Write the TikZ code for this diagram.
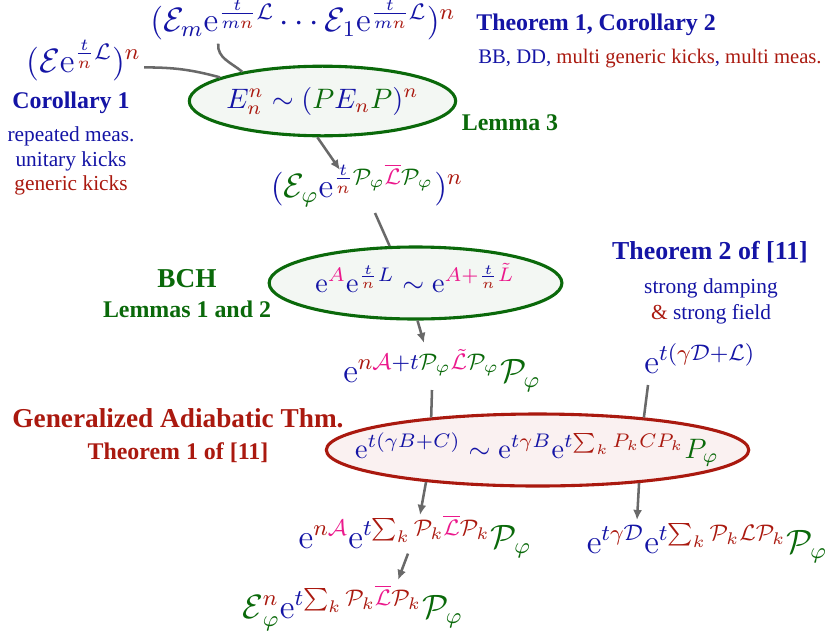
\documentclass[tikz,border=0pt]{standalone}
\usepackage{amsmath,amssymb}
\usepackage[no-math]{fontspec}
\setmainfont{Liberation Serif}
\usepackage{xcolor}
\usepackage{tikz}
\usetikzlibrary{arrows.meta,shapes.geometric}
\definecolor{NoteBlue}{RGB}{20,20,165}
\definecolor{NoteRed}{RGB}{170,25,15}
\definecolor{NoteGreen}{RGB}{10,105,10}
\definecolor{NotePink}{RGB}{235,25,140}
\definecolor{LinkGray}{RGB}{105,105,105}
\newcommand{\cR}[1]{{\color{NoteRed}#1}}
\newcommand{\cG}[1]{{\color{NoteGreen}#1}}
\newcommand{\cP}[1]{{\color{NotePink}#1}}
\newcommand{\Pphi}{\cG{\mathcal{P}_\varphi}}

\begin{document}
\begin{tikzpicture}[>=Latex,
  ellg/.style={ellipse, draw=NoteGreen, line width=1.1pt, fill=NoteGreen!5, inner sep=0pt},
  ellr/.style={ellipse, draw=NoteRed, line width=1.1pt, fill=NoteRed!6, inner sep=0pt},
  fml/.style={anchor=base, text=NoteBlue, inner sep=1pt},
  bigfml/.style={fml, font=\large},
  hdbig/.style={anchor=base, inner sep=1pt, font=\fontsize{9.7}{11}\selectfont\bfseries},
  hdmid/.style={anchor=base, inner sep=1pt, font=\fontsize{9.2}{11}\selectfont\bfseries},
  hd/.style={anchor=base, inner sep=1pt, font=\fontsize{8.5}{10}\selectfont\bfseries},
  note/.style={align=center, inner sep=1pt, font=\fontsize{7.6}{8.6}\selectfont},
  link/.style={draw=LinkGray, line width=0.9pt},
  flow/.style={link, -{Latex[length=3.6pt,width=3.2pt]}}]
  \useasboundingbox (0,0) rectangle (10.375,7.9875);

  \node[ellg, minimum width=3.33cm, minimum height=0.87cm] (ellA) at (4.031,6.725) {};
  \node[ellg, minimum width=3.66cm, minimum height=0.9cm] (ellB) at (5.194,4.45) {};
  \node[ellr, minimum width=5.28cm, minimum height=0.9cm] (ellC) at (6.719,2.3625) {};

  \node[bigfml] (tf) at (3.7875,7.59) {$(\mathcal{E}_m\mathrm{e}^{\frac{t}{m\cR{n}}\mathcal{L}}\cdots\mathcal{E}_1\mathrm{e}^{\frac{t}{m\cR{n}}\mathcal{L}})^{\cR{n}}$};
  \node[bigfml] (lf) at (1.044,7.0875) {$(\mathcal{E}\mathrm{e}^{\frac{t}{\cR{n}}\mathcal{L}})^{\cR{n}}$};
  \node[fml] (fA) at (4.031,6.6375) {$E_{\cR{n}}^{\cR{n}}\sim(\cG{P}E_{\cR{n}}\cG{P})^{\cR{n}}$};
  \node[bigfml] (pf) at (4.5875,5.525) {$(\cG{\mathcal{E}_\varphi}\mathrm{e}^{\frac{t}{\cR{n}}\Pphi\cP{\overline{\mathcal{L}}}\Pphi})^{\cR{n}}$};
  \node[fml] (fB) at (5.1875,4.3375) {$\mathrm{e}^{\cP{A}}\mathrm{e}^{\frac{t}{\cR{n}}L}\sim\mathrm{e}^{\cP{A+}\frac{t}{\cR{n}}\cP{\tilde{L}}}$};
  \node[bigfml] (af) at (5.525,3.2125) {$\mathrm{e}^{\cR{n}\cP{\mathcal{A}}+t\Pphi\cP{\tilde{\mathcal{L}}}\Pphi}\Pphi$};
  \node[bigfml] (df) at (8.75,3.325) {$\mathrm{e}^{t(\cR{\gamma}\mathcal{D}+\mathcal{L})}$};
  \node[fml] (fC) at (6.7125,2.2625) {$\mathrm{e}^{t(\gamma B+C)}\sim\mathrm{e}^{t\cR{\gamma}B}\mathrm{e}^{t\cR{\sum_k P_kCP_k}}\cG{P_\varphi}$};
  \node[bigfml] (bl) at (5.1875,1.1375) {$\mathrm{e}^{\cR{n}\cP{\mathcal{A}}}\mathrm{e}^{t\cR{\sum_k\mathcal{P}_k}\cP{\overline{\mathcal{L}}}\cR{\mathcal{P}_k}}\Pphi$};
  \node[bigfml] (br) at (8.8375,1.075) {$\mathrm{e}^{t\cR{\gamma}\mathcal{D}}\mathrm{e}^{t\cR{\sum_k\mathcal{P}_k\mathcal{L}\mathcal{P}_k}}\Pphi$};
  \node[bigfml] (lastf) at (4.406,0.2625) {$\cG{\mathcal{E}}_{\cG{\varphi}}^{\cR{n}}\mathrm{e}^{t\cR{\sum_k\mathcal{P}_k}\cP{\overline{\mathcal{L}}}\cR{\mathcal{P}_k}}\Pphi$};

  \node[hd, anchor=base west, text=NoteBlue] (thmA) at (5.9125,7.6125) {Theorem 1, Corollary 2};
  \node[note, anchor=base west, text=NoteBlue, font=\fontsize{7.35}{8.6}\selectfont] (kinds) at (5.9375,7.2) {BB, DD, \cR{multi generic kicks}, \cR{multi meas.}};
  \node[hd, text=NoteBlue] (corA) at (0.8875,6.6375) {Corollary 1};
  \node[note, text=NoteBlue] (corAtxt) at (0.8875,5.975) {repeated meas.\\unitary kicks\\\cR{generic kicks}};
  \node[hd, text=NoteGreen] (lemC) at (6.375,6.3625) {Lemma 3};
  \node[hdbig, text=NoteGreen] (bch) at (2.3375,4.4) {BCH};
  \node[hd, text=NoteGreen] (lemAB) at (2.3375,4.025) {Lemmas 1 and 2};
  \node[hdmid, text=NoteBlue] (thmB) at (8.875,4.75) {Theorem 2 of [11]};
  \node[note, text=NoteBlue, font=\fontsize{7.6}{9.2}\selectfont] (thmBtxt) at (8.8875,4.225) {strong damping\\\cR{\&} strong field};
  \node[hdbig, text=NoteRed] (gat) at (2.225,2.65) {Generalized Adiabatic Thm.};
  \node[hd, text=NoteRed] (thmC) at (2.225,2.25) {Theorem 1 of [11]};

  \draw[link] ([yshift=-0.09cm]lf.east) to[out=0, in=165] (ellA.167);
  \draw[link] ([xshift=-1.06cm]tf.south) to[out=-95, in=140] (ellA.160);
  \draw[flow] (ellA.-98) -- ([xshift=-0.3375cm,yshift=0.3375cm]pf.base);
  \draw[link] ([xshift=0.1cm,yshift=-0.04cm]pf.south) -- (ellB.125);
  \draw[flow] (ellB.-87) -- ([xshift=-0.225cm,yshift=0.4875cm]af.base);
  \draw[link] ([xshift=-0.125cm,yshift=-0.1cm]af.base) -- (ellC.163);
  \draw[link] ([xshift=-0.65cm,yshift=-0.15cm]df.base) -- (ellC.17);
  \draw[flow] (ellC.196) -- ([xshift=0.0625cm,yshift=0.4125cm]bl.base);
  \draw[flow] (ellC.-18) -- ([xshift=-0.875cm,yshift=0.4125cm]br.base);
  \draw[flow] ([xshift=-0.0875cm,yshift=-0.07cm]bl.base) -- ([xshift=0.569cm,yshift=0.475cm]lastf.base);
\end{tikzpicture}
\end{document}
